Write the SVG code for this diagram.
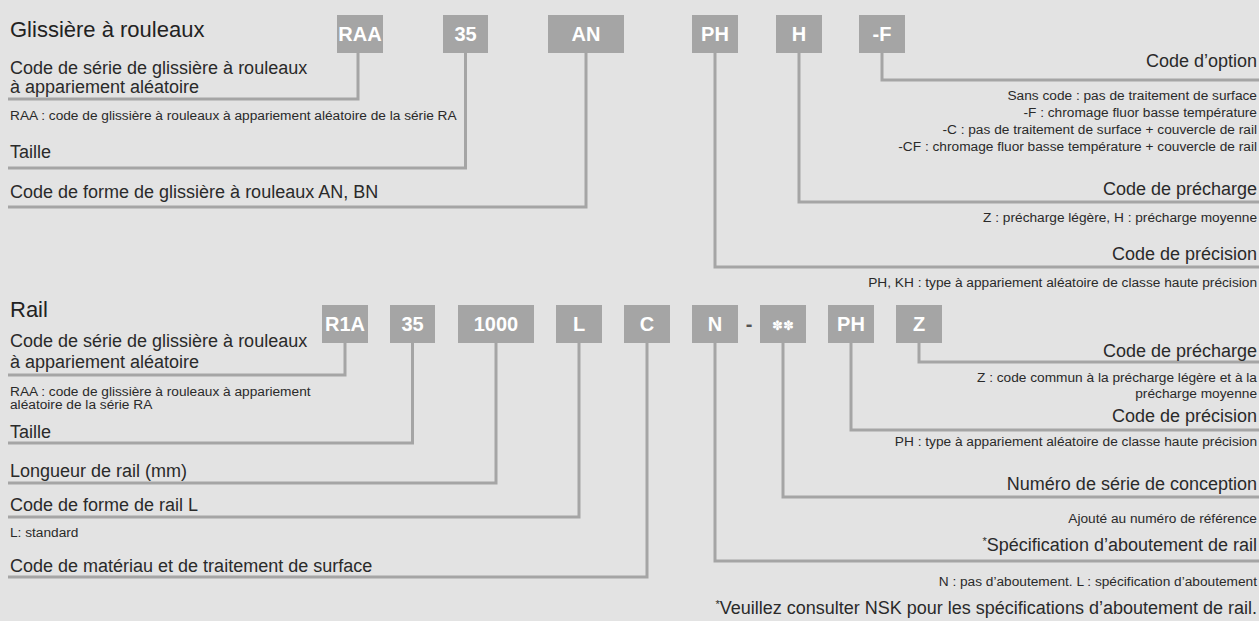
<svg xmlns="http://www.w3.org/2000/svg" width="1259" height="621" viewBox="0 0 1259 621">
<style>
.bg{fill:#e3e3e3}
.box rect{fill:#a5a5a5}
.box text{fill:#ffffff;font-family:"Liberation Sans",Arial,sans-serif;font-weight:bold;font-size:20px;text-anchor:middle}
.h{fill:#222;font-family:"Liberation Sans",Arial,sans-serif;font-size:22px}
.t{fill:#2a2a2a;font-family:"Liberation Sans",Arial,sans-serif;font-size:18px}
.s{fill:#2a2a2a;font-family:"Liberation Sans",Arial,sans-serif;font-size:13.7px}
.r{text-anchor:end}
.ln{fill:none;stroke:#a5a5a5;stroke-width:3}
.sup{font-size:11px}
</style>
<rect class="bg" x="0" y="0" width="1259" height="621"/>

<g id="connectors">
<path class="ln" d="M358,53 V99 H8"/>
<path class="ln" d="M465.5,53 V168 H8"/>
<path class="ln" d="M586,53 V207 H8"/>
<path class="ln" d="M715,53 V267 H1259"/>
<path class="ln" d="M799,53 V202 H1259"/>
<path class="ln" d="M882,53 V80 H1259"/>
<path class="ln" d="M345,343 V375 H8"/>
<path class="ln" d="M412.5,343 V443 H8"/>
<path class="ln" d="M496,343 V483 H8"/>
<path class="ln" d="M579,343 V517 H8"/>
<path class="ln" d="M647,343 V577 H8"/>
<path class="ln" d="M715,343 V561 H1259"/>
<path class="ln" d="M783,343 V497 H1259"/>
<path class="ln" d="M851,343 V430 H1259"/>
<path class="ln" d="M919,343 V362 H1259"/>
</g>

<g id="code-raa" class="box"><rect x="337" y="15" width="46" height="38"/><text x="360" y="41">RAA</text></g>
<g id="code-35-top" class="box"><rect x="443" y="15" width="45" height="38"/><text x="465.5" y="41">35</text></g>
<g id="code-an" class="box"><rect x="548" y="15" width="76" height="38"/><text x="586" y="41">AN</text></g>
<g id="code-ph-top" class="box"><rect x="692" y="15" width="46" height="38"/><text x="715" y="41">PH</text></g>
<g id="code-h" class="box"><rect x="776" y="15" width="46" height="38"/><text x="799" y="41">H</text></g>
<g id="code-f" class="box"><rect x="859" y="15" width="46" height="38"/><text x="882" y="41">-F</text></g>

<g id="code-r1a" class="box"><rect x="322" y="305" width="46" height="38"/><text x="345" y="331">R1A</text></g>
<g id="code-35-rail" class="box"><rect x="390" y="305" width="45" height="38"/><text x="412.5" y="331">35</text></g>
<g id="code-1000" class="box"><rect x="458" y="305" width="76" height="38"/><text x="496" y="331">1000</text></g>
<g id="code-l" class="box"><rect x="556" y="305" width="46" height="38"/><text x="579" y="331">L</text></g>
<g id="code-c" class="box"><rect x="624" y="305" width="46" height="38"/><text x="647" y="331">C</text></g>
<g id="code-n" class="box"><rect x="692" y="305" width="46" height="38"/><text x="715" y="331">N</text></g>
<g id="dash"><text x="749" y="331" style="fill:#555;font-family:'Liberation Sans',Arial,sans-serif;font-weight:bold;font-size:20px;text-anchor:middle">-</text></g>
<g id="code-design" class="box"><rect x="760" y="305" width="46" height="38"/><text x="783" y="330" style="font-family:'DejaVu Sans',sans-serif;font-size:13px;font-weight:normal">✽✽</text></g>
<g id="code-ph-rail" class="box"><rect x="828" y="305" width="46" height="38"/><text x="851" y="331">PH</text></g>
<g id="code-z" class="box"><rect x="896" y="305" width="46" height="38"/><text x="919" y="331">Z</text></g>

<g id="labels-slide-left">
<text class="h" x="10" y="37">Glissière à rouleaux</text>
<text class="t" x="10" y="74">Code de série de glissière à rouleaux</text>
<text class="t" x="10" y="93">à appariement aléatoire</text>
<text class="s" x="10" y="120">RAA : code de glissière à rouleaux à appariement aléatoire de la série RA</text>
<text class="t" x="10" y="158">Taille</text>
<text class="t" x="10" y="198">Code de forme de glissière à rouleaux AN, BN</text>
</g>

<g id="labels-slide-right">
<text class="t r" x="1257" y="67">Code d’option</text>
<text class="s r" x="1257" y="100">Sans code : pas de traitement de surface</text>
<text class="s r" x="1257" y="117">-F : chromage fluor basse température</text>
<text class="s r" x="1257" y="134">-C : pas de traitement de surface + couvercle de rail</text>
<text class="s r" x="1257" y="151">-CF : chromage fluor basse température + couvercle de rail</text>
<text class="t r" x="1257" y="195">Code de précharge</text>
<text class="s r" x="1257" y="222">Z : précharge légère, H : précharge moyenne</text>
<text class="t r" x="1257" y="260">Code de précision</text>
<text class="s r" x="1257" y="287">PH, KH : type à appariement aléatoire de classe haute précision</text>
</g>

<g id="labels-rail-left">
<text class="h" x="10" y="317">Rail</text>
<text class="t" x="10" y="347">Code de série de glissière à rouleaux</text>
<text class="t" x="10" y="368">à appariement aléatoire</text>
<text class="s" x="10" y="396">RAA : code de glissière à rouleaux à appariement</text>
<text class="s" x="10" y="409">aléatoire de la série RA</text>
<text class="t" x="10" y="438">Taille</text>
<text class="t" x="10" y="477">Longueur de rail (mm)</text>
<text class="t" x="10" y="511">Code de forme de rail L</text>
<text class="s" x="10" y="537">L: standard</text>
<text class="t" x="10" y="572">Code de matériau et de traitement de surface</text>
</g>

<g id="labels-rail-right">
<text class="t r" x="1257" y="357">Code de précharge</text>
<text class="s r" x="1257" y="382">Z : code commun à la précharge légère et à la</text>
<text class="s r" x="1257" y="398">précharge moyenne</text>
<text class="t r" x="1257" y="422">Code de précision</text>
<text class="s r" x="1257" y="446">PH : type à appariement aléatoire de classe haute précision</text>
<text class="t r" x="1257" y="490">Numéro de série de conception</text>
<text class="s r" x="1257" y="523">Ajouté au numéro de référence</text>
<text class="t r" x="1257" y="551"><tspan class="sup" dy="-6">*</tspan><tspan dy="6">Spécification d’aboutement de rail</tspan></text>
<text class="s r" x="1257" y="586">N : pas d’aboutement. L : spécification d’aboutement</text>
<text class="t r" x="1257" y="614"><tspan class="sup" dy="-6">*</tspan><tspan dy="6">Veuillez consulter NSK pour les spécifications d’aboutement de rail.</tspan></text>
</g>
</svg>
